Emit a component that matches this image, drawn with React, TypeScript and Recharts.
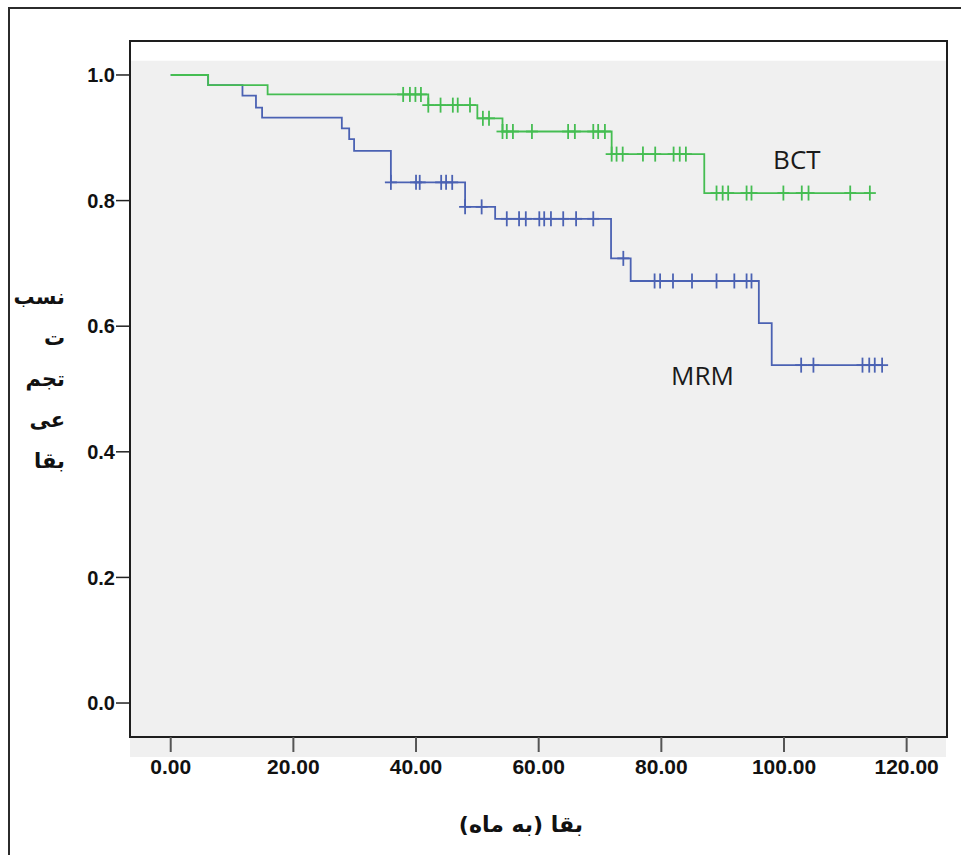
import React from "react";
import { ComposedChart, Line, XAxis, YAxis, ReferenceArea, ReferenceDot } from "recharts";

// axis ticks
const xTicks = [0, 20, 40, 60, 80, 100, 120];
const yTicks = [0, 0.2, 0.4, 0.6, 0.8, 1.0];

// BCT group: time (months), cumulative survival, censored (1) or event (0)
const bctTime = [0, 6.1, 15.8, 37.9, 39.0, 39.9, 40.8, 42.0, 44.0, 46.0, 46.8, 48.8, 50.0, 50.9, 51.9, 54.1, 54.8, 55.8, 58.9, 64.8, 65.9, 68.9, 69.7, 70.8, 71.9, 72.7, 73.7, 77.0, 79.0, 82.0, 83.0, 84.0, 87.0, 89.0, 90.0, 90.9, 93.9, 94.7, 99.9, 102.9, 104.0, 110.8, 114.0];
const bctSurv = [1.0, 0.984, 0.969, 0.969, 0.969, 0.969, 0.969, 0.952, 0.952, 0.952, 0.952, 0.952, 0.931, 0.931, 0.931, 0.91, 0.91, 0.91, 0.91, 0.91, 0.91, 0.91, 0.91, 0.91, 0.874, 0.874, 0.874, 0.874, 0.874, 0.874, 0.874, 0.874, 0.812, 0.812, 0.812, 0.812, 0.812, 0.812, 0.812, 0.812, 0.812, 0.812, 0.812];
const bctCens = [0, 0, 0, 1, 1, 1, 1, 1, 1, 1, 1, 1, 0, 1, 1, 1, 1, 1, 1, 1, 1, 1, 1, 1, 1, 1, 1, 1, 1, 1, 1, 1, 0, 1, 1, 1, 1, 1, 1, 1, 1, 1, 1];

// MRM group
const mrmTime = [0, 6.1, 11.7, 13.9, 14.9, 27.9, 29.1, 29.9, 35.9, 40.0, 40.6, 44.1, 44.9, 45.9, 48.0, 50.7, 52.9, 54.8, 56.8, 57.9, 60.1, 60.9, 62.0, 64.0, 66.1, 68.9, 71.8, 73.8, 75.0, 78.9, 79.8, 81.9, 85.0, 89.0, 91.9, 93.9, 94.7, 95.9, 98.0, 102.8, 104.8, 112.8, 113.9, 114.8, 116.0];
const mrmSurv = [1.0, 0.984, 0.967, 0.948, 0.932, 0.915, 0.898, 0.879, 0.829, 0.829, 0.829, 0.829, 0.829, 0.829, 0.79, 0.79, 0.771, 0.771, 0.771, 0.771, 0.771, 0.771, 0.771, 0.771, 0.771, 0.771, 0.708, 0.708, 0.672, 0.672, 0.672, 0.672, 0.672, 0.672, 0.672, 0.672, 0.672, 0.605, 0.538, 0.538, 0.538, 0.538, 0.538, 0.538, 0.538];
const mrmCens = [0, 0, 0, 0, 0, 0, 0, 0, 1, 1, 1, 1, 1, 1, 1, 1, 0, 1, 1, 1, 1, 1, 1, 1, 1, 1, 0, 1, 0, 1, 1, 1, 1, 1, 1, 1, 1, 0, 0, 1, 1, 1, 1, 1, 1];

const groupNames = ["BCT", "MRM"];

const bctData = bctTime.map((t, i) => ({ t, s: bctSurv[i], c: bctCens[i] }));
const mrmData = mrmTime.map((t, i) => ({ t, s: mrmSurv[i], c: mrmCens[i] }));

// where the group names sit, in data units
const annotations = [
  { name: groupNames[0], t: 102.1, s: 0.865 },
  { name: groupNames[1], t: 86.7, s: 0.521 },
];

const xDomain = [-6.64, 126.58];
const yDomain = [-0.0541, 1.0541];
const grayTop = 1.0228;

const GREEN = "#45bd52";
const BLUE = "#4b62b3";
const numFont = "'Liberation Sans', Arial, sans-serif";
const arabicFont = "'DejaVu Sans', sans-serif";

// censored cases are drawn as small "+" marks
const censorDot = (color: string) => (props: any) => {
  const { cx, cy, payload, index } = props;
  if (!payload || !payload.c) return <g key={`n-${index}`} />;
  return (
    <g key={`c-${index}`}>
      <line x1={cx} x2={cx} y1={cy - 7.5} y2={cy + 7.5} stroke={color} strokeWidth={1.8} />
      <line x1={cx - 6} x2={cx + 6} y1={cy} y2={cy} stroke={color} strokeWidth={1.8} />
    </g>
  );
};

const yTitleLines = ["نسب", "ت", "تجم", "عی", "بقا"];

const YTitle = () => (
  <g>
    {yTitleLines.map((line, i) => (
      <text
        key={line}
        x={65}
        y={304 + i * 41}
        textAnchor="end"
        fontFamily={arabicFont}
        fontWeight="bold"
        fontSize={21}
        fill="#111"
      >
        {line}
      </text>
    ))}
  </g>
);

const XTitle = () => (
  <text
    x={521}
    y={832}
    textAnchor="middle"
    direction="rtl"
    fontFamily={arabicFont}
    fontWeight="bold"
    fontSize={22}
    fill="#111"
  >
    بقا (به ماه)
  </text>
);

export default function App() {
  return (
    <div style={{ position: "absolute", left: 0, top: 0, width: 961, height: 855, background: "#fff", overflow: "hidden" }}>
      {/* outer frame */}
      <div
        style={{
          position: "absolute",
          left: 8,
          top: 7,
          width: 1000,
          height: 1000,
          borderTop: "2px solid #2b2b2b",
          borderLeft: "2px solid #2b2b2b",
        }}
      />
      {/* gray strip under the x axis line */}
      <div style={{ position: "absolute", left: 130, top: 737, width: 816, height: 20, background: "#f0f0f0" }} />
      <div style={{ position: "absolute", left: 0, top: 0 }}>
        <ComposedChart width={961} height={855} margin={{ top: 41, right: 14, bottom: 88, left: 70 }}>
          <XAxis
            type="number"
            dataKey="t"
            domain={xDomain}
            allowDataOverflow
            ticks={xTicks}
            tickFormatter={(v: number) => v.toFixed(2)}
            axisLine={false}
            tickLine={{ stroke: "#555", strokeWidth: 2 }}
            tickSize={15}
            tickMargin={7}
            height={30}
            tick={{ fill: "#111", fontSize: 21, fontWeight: "bold", fontFamily: numFont }}
            label={{ content: () => <XTitle /> }}
          />
          <YAxis
            type="number"
            dataKey="s"
            domain={yDomain}
            allowDataOverflow
            ticks={yTicks}
            tickFormatter={(v: number) => v.toFixed(1)}
            axisLine={false}
            tickLine={{ stroke: "#222", strokeWidth: 1.5 }}
            tickSize={14}
            tickMargin={1}
            width={60}
            tick={{ fill: "#111", fontSize: 20, fontWeight: "bold", fontFamily: numFont }}
            label={{ content: () => <YTitle /> }}
          />
          <ReferenceArea
            x1={xDomain[0]}
            x2={xDomain[1]}
            y1={yDomain[0]}
            y2={grayTop}
            fill="#f0f0f0"
            fillOpacity={1}
            stroke="none"
          />
          <ReferenceArea
            x1={xDomain[0]}
            x2={xDomain[1]}
            y1={yDomain[0]}
            y2={yDomain[1]}
            fill="none"
            stroke="#1e1e1e"
            strokeWidth={2}
          />
          <Line
            data={mrmData}
            dataKey="s"
            type="stepAfter"
            stroke={BLUE}
            strokeWidth={1.8}
            dot={censorDot(BLUE)}
            activeDot={false}
            isAnimationActive={false}
          />
          <Line
            data={bctData}
            dataKey="s"
            type="stepAfter"
            stroke={GREEN}
            strokeWidth={1.8}
            dot={censorDot(GREEN)}
            activeDot={false}
            isAnimationActive={false}
          />
          {annotations.map((a) => (
            <ReferenceDot
              key={a.name}
              x={a.t}
              y={a.s}
              r={1}
              fill="none"
              stroke="none"
              label={{ value: a.name, position: "center", fill: "#1a1a1a", fontSize: 26, fontFamily: "'Open Sans', sans-serif" }}
            />
          ))}
        </ComposedChart>
      </div>
    </div>
  );
}
